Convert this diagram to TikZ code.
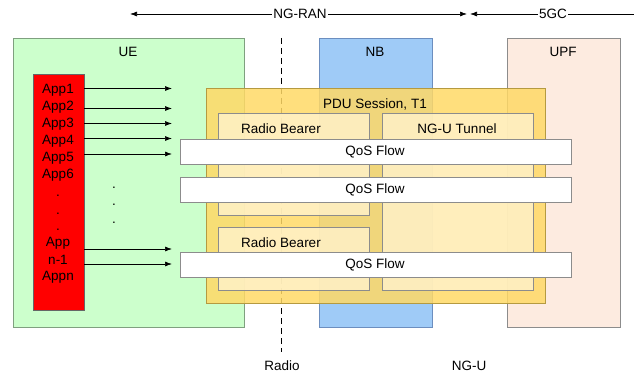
\documentclass[tikz,border=0pt]{standalone}
\usepackage{fontspec}
\setmainfont{Liberation Sans}
\usetikzlibrary{arrows.meta}
\definecolor{uefill}{HTML}{CCFFCC}
\definecolor{ueline}{HTML}{7FA07F}
\definecolor{nbfill}{HTML}{9FCBF7}
\definecolor{nbline}{HTML}{6C8EBF}
\definecolor{upffill}{HTML}{FDEBE0}
\definecolor{upfline}{HTML}{8C8C8C}
\definecolor{pdufill}{HTML}{FFD966}
\definecolor{pduline}{HTML}{B59A40}
\definecolor{rbfill}{HTML}{FFF2CC}
\definecolor{rbline}{HTML}{8C8C8C}
\definecolor{appred}{HTML}{FF0000}
\tikzset{
  txt/.style={font=\fontsize{13.5}{16}\selectfont, inner sep=0pt},
  bigbox/.style={draw, line width=0.8pt, inner sep=0pt},
  lbl/.style={txt, anchor=center},
  apparrow/.style={-{Latex[length=7pt,width=5pt]}, line width=0.7pt},
  toparrow/.style={line width=0.7pt},
}
\begin{document}
\begin{tikzpicture}[x=1pt,y=-1pt]
\useasboundingbox (0,0) rectangle (636,374);
% main columns
\node[bigbox, fill=uefill, draw=ueline, minimum width=231pt, minimum height=289pt] (ue) at (128.5,183) {};
\node[bigbox, fill=nbfill, draw=nbline, minimum width=113pt, minimum height=289pt] (nb) at (375.5,183) {};
\node[bigbox, fill=upffill, draw=upfline, minimum width=113pt, minimum height=289pt] (upf) at (564,183) {};
\node[lbl] (uel) at (128,52) {UE};
\node[lbl] (nbl) at (375,52) {NB};
\node[lbl] (upfl) at (563,52) {UPF};
% dashed radio line
\coordinate (rtop) at (281.5,38);
\coordinate (rbot) at (281.5,352);
\draw[dash pattern=on 6pt off 4pt, line width=0.7pt] (rtop) -- (rbot);
\node[lbl] (radio) at (282,366) {Radio};
\node[lbl] (ngu) at (469,366) {NG-U};
% top arrows
\coordinate (ranl) at (130,14);
\coordinate (ranr) at (467,14);
\coordinate (cl) at (470,14);
\coordinate (cr) at (634,14);
\draw[toparrow, {Latex[length=7pt,width=5pt]}-{Latex[length=7pt,width=5pt]}] (ranl) -- (ranr);
\draw[toparrow, {Latex[length=7pt,width=5pt]}-] (cl) -- (cr);
\node[lbl, fill=white, inner xsep=1pt] (ngran) at (300,14) {NG-RAN};
\node[lbl, fill=white, inner xsep=1pt] (fgc) at (553,14) {5GC};
% apps
\node[bigbox, fill=appred, draw=black!60, line width=0.6pt, minimum width=51pt, minimum height=236pt] (red) at (58.5,192) {};
\node[lbl] (app1) at (58,90.5) {App1};
\node[lbl] (app2) at (58,107) {App2};
\node[lbl] (app3) at (58,124) {App3};
\node[lbl] (app4) at (58,141) {App4};
\node[lbl] (app5) at (58,158) {App5};
\node[lbl] (app6) at (58,175) {App6};
\node[lbl] (d1) at (58,196) {.};
\node[lbl] (d2) at (58,214) {.};
\node[lbl] (d3) at (58,230) {.};
\node[lbl] (appa) at (58,243) {App};
\node[lbl] (appb) at (58,260) {n-1};
\node[lbl] (appn) at (58,277) {Appn};
\node[lbl] (m1) at (114,188) {.};
\node[lbl] (m2) at (114,205) {.};
\node[lbl] (m3) at (114,223) {.};
\foreach \i/\y in {1/88.5,2/108.5,3/123.5,4/138.5,5/154,6/249,7/264}{
  \coordinate (s\i) at (84,\y);
  \coordinate (e\i) at (172,\y);
  \draw[apparrow] (s\i) -- (e\i);
}
% PDU session
\node[bigbox, fill=pdufill, fill opacity=0.85, draw=pduline, minimum width=339pt, minimum height=215pt] (pdu) at (375.5,195.5) {};
\node[lbl] (pdul) at (375,104) {PDU Session, T1};
\node[bigbox, fill=rbfill, fill opacity=0.8, draw=rbline, line width=0.6pt, minimum width=151pt, minimum height=102pt] (rb1) at (293.5,164) {};
\node[bigbox, fill=rbfill, fill opacity=0.8, draw=rbline, line width=0.6pt, minimum width=151pt, minimum height=177pt] (tun) at (457.5,201.5) {};
\node[bigbox, fill=rbfill, fill opacity=0.8, draw=rbline, line width=0.6pt, minimum width=151pt, minimum height=63pt] (rb2) at (293.5,258.5) {};
\node[lbl] (rb1l) at (281,129) {Radio Bearer};
\node[lbl] (tunl) at (457,129) {NG-U Tunnel};
\node[lbl] (rb2l) at (281,243) {Radio Bearer};
% QoS flows
\foreach \n/\y in {q1/151.5,q2/189.5,q3/264.5}{
  \node[bigbox, fill=white, draw=rbline, line width=0.6pt, minimum width=391pt, minimum height=25pt] (\n) at (375.5,\y) {};
  \node[lbl] (\n l) at (375,\y) {QoS Flow};
}
\end{tikzpicture}
\end{document}
